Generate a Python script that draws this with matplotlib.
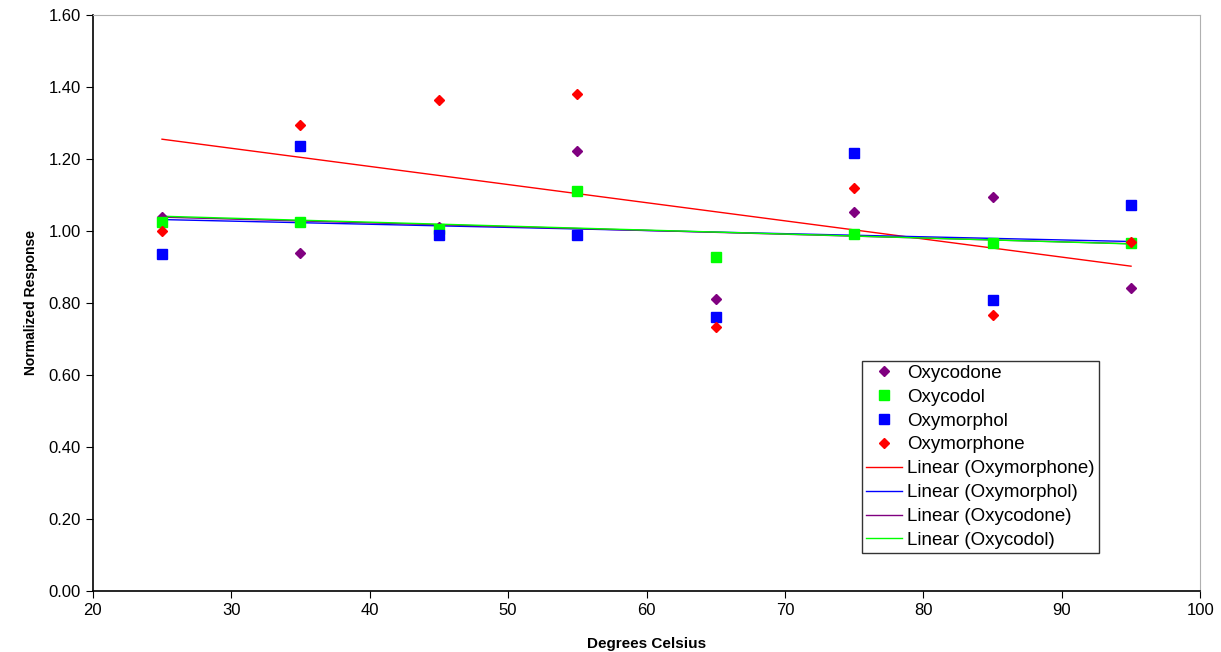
import numpy as np
import matplotlib
matplotlib.use("Agg")
import matplotlib.pyplot as plt

plt.rcParams["font.family"] = ["Liberation Sans", "DejaVu Sans"]

temps = [25, 35, 45, 55, 65, 75, 85, 95]
oxycodone = [1.039, 0.939, 1.010, 1.222, 0.811, 1.053, 1.094, 0.842]
oxycodol = [1.025, 1.025, 1.005, 1.111, 0.928, 0.990, 0.967, 0.967]
oxymorphol = [0.936, 1.236, 0.989, 0.989, 0.761, 1.217, 0.808, 1.072]
oxymorphone = [1.000, 1.294, 1.364, 1.381, 0.733, 1.119, 0.767, 0.969]

series = [
    ("Oxycodone", oxycodone, "#800080", "D", 5.5),
    ("Oxycodol", oxycodol, "#00ff00", "s", 7),
    ("Oxymorphol", oxymorphol, "#0000ff", "s", 7),
    ("Oxymorphone", oxymorphone, "#ff0000", "D", 5.5),
]
trend_order = ["Oxymorphone", "Oxymorphol", "Oxycodone", "Oxycodol"]

fig = plt.figure(figsize=(12.21, 6.52), dpi=100)
ax = fig.add_axes([0.076, 0.094, 0.907, 0.883])

x = np.array(temps)
for name, ys, col, mk, ms in series:
    ax.plot(x, ys, linestyle="none", marker=mk, color=col, markersize=ms,
            label=name, zorder=3)

# straight-line fits, drawn over the measured range only
lookup = {s[0]: s for s in series}
for name in trend_order:
    _, ys, col, _, _ = lookup[name]
    k, b = np.polyfit(x, ys, 1)
    ax.plot(x[[0, -1]], k * x[[0, -1]] + b, color=col, lw=1,
            label=f"Linear ({name})", zorder=2)

ax.set_xlim(20, 100)
ax.set_ylim(0, 1.6)
ax.set_xticks(range(20, 101, 10))
ax.set_yticks(np.arange(0, 1.61, 0.2))
ax.set_yticklabels([f"{v:.2f}" for v in np.arange(0, 1.61, 0.2)])
ax.tick_params(labelsize=12, direction="out", length=5, color="black")
for s in ("top", "right"):
    ax.spines[s].set_color("#b0b0b0")
for s in ("left", "bottom"):
    ax.spines[s].set_color("black")
    ax.spines[s].set_linewidth(1.2)

ax.set_xlabel("Degrees Celsius", fontsize=11, fontweight="bold", labelpad=14)
ax.set_ylabel("Normalized Response", fontsize=10, fontweight="bold", labelpad=8)

leg = ax.legend(loc="lower left", bbox_to_anchor=(0.695, 0.066), fontsize=13.5,
                frameon=True, fancybox=False, edgecolor="black",
                handlelength=1.9, borderpad=0.2, labelspacing=0.36,
                handletextpad=0.3, borderaxespad=0)
leg.get_frame().set_linewidth(1)

fig.savefig("out.png", dpi=100)
